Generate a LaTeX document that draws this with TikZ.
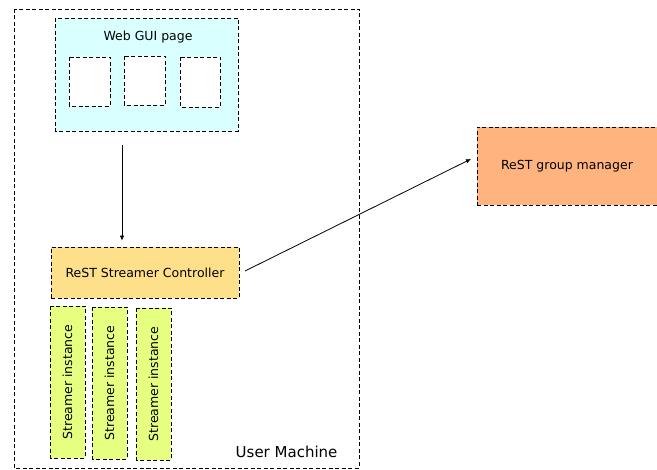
\documentclass[tikz,border=0pt]{standalone}
\usepackage{fontspec}
\setmainfont{DejaVu Sans}
\usetikzlibrary{arrows.meta}
\definecolor{guifill}{RGB}{217,255,255}
\definecolor{ctrlfill}{RGB}{255,224,138}
\definecolor{instfill}{RGB}{231,255,128}
\definecolor{mgrfill}{RGB}{255,180,128}
\tikzset{
  box/.style={draw, line width=0.8pt, dash pattern=on 4pt off 2.5pt, inner sep=0pt},
  arr/.style={draw, line width=0.8pt, -{Latex[length=5pt,width=4.5pt]}},
  lbl/.style={font=\fontsize{12.5}{14}\selectfont}
}
\begin{document}
\begin{tikzpicture}[x=1pt,y=1pt]
\useasboundingbox (0,0) rectangle (657,-470);
% user machine frame
\draw[box] (14,-9) rectangle (359,-468);
\node[anchor=base east, font=\fontsize{15}{17}\selectfont] (um) at (341,-458) {User Machine};
% web page with three widgets
\draw[box, fill=guifill] (55,-18) rectangle (238,-131);
\node[lbl] (gui) at (148,-37) {Web GUI page};
\draw[box, fill=white] (69,-57) rectangle (110,-106);
\draw[box, fill=white] (124,-56) rectangle (165,-105);
\draw[box, fill=white] (180,-57) rectangle (220,-107);
\coordinate (guibot) at (122,-145);
% controller
\node[box, fill=ctrlfill, lbl, minimum width=188pt, minimum height=51pt] (ctrl) at (145,-272.5) {ReST Streamer Controller};
% streamer instances
\foreach \x/\y [count=\i] in {67.5/382, 109.5/383, 153.5/384}{
  \node[box, fill=instfill, lbl, minimum width=152pt, minimum height=35pt, rotate=90] (inst\i) at (\x,-\y) {Streamer instance};
}
% group manager
\node[box, fill=mgrfill, lbl, minimum width=180pt, minimum height=78pt] (mgr) at (567,-166) {ReST group manager};
% connectors
\draw[arr, shorten >=6pt] (guibot) -- (ctrl.north -| guibot);
\coordinate (cstart) at (245,-271);
\coordinate (mend) at (471,-159);
\draw[arr] (cstart) -- (mend);
\end{tikzpicture}
\end{document}
